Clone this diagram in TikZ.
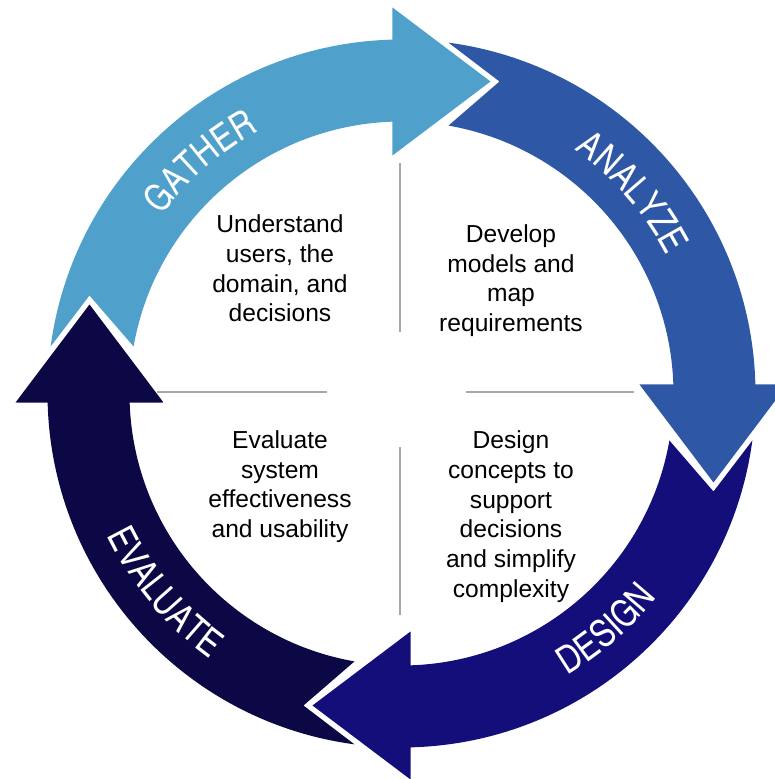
\documentclass[tikz,border=0pt]{standalone}
\usepackage{fontspec}
\setmainfont{Liberation Sans}
\newfontfamily\lblfont{texgyreheroscn-regular.otf}
\usepackage{xcolor}
\usepackage{tikz}
\usetikzlibrary{decorations.text}

\definecolor{gathercol}{RGB}{79,161,203}
\definecolor{analyzecol}{RGB}{46,88,166}
\definecolor{designcol}{RGB}{20,14,122}
\definecolor{evalcol}{RGB}{12,8,70}
\definecolor{divgray}{RGB}{168,168,168}

\tikzset{
  steptext/.style={font=\fontsize{24.6}{29.7}\selectfont, align=center, inner sep=0pt},
  divider/.style={draw=divgray, line width=1.6pt},
  toplabel/.style={decorate, decoration={text along path, text align=center, text color=white,
      text={|\lblfont\fontsize{38}{38}\selectfont|#1}}},
}

% one quarter of the ring, drawn from top to right, then turned
\newcommand{\ringarrow}[2]{%
  \begin{scope}[rotate=#1]
    \fill[#2] (82.37:354) arc[start angle=82.37, end angle=1.46, radius=354]
      -- (386,9) -- (312,-89) -- (238,9)
      -- (1.90:272) arc[start angle=1.90, end angle=80.05, radius=272]
      -- (98,312) -- cycle;
  \end{scope}}

\begin{document}
\begin{tikzpicture}[x=1pt,y=1pt]
    \clip (-400,-387) rectangle (375,392);

    \begin{scope}[shift={(1.5,-1.5)}]
      \ringarrow{90}{gathercol}
      \ringarrow{0}{analyzecol}
      \ringarrow{-90}{designcol}
      \ringarrow{180}{evalcol}
      \path[toplabel=GATHER] (171:299) arc[start angle=171, end angle=91, radius=299];
      \path[toplabel=ANALYZE] (81:299) arc[start angle=81, end angle=1, radius=299];
      \path[toplabel=DESIGN] (-89:327) arc[start angle=-89, end angle=-9, radius=327];
      \path[toplabel=EVALUATE] (180:327) arc[start angle=180, end angle=260, radius=327];
    \end{scope}

    \draw[divider] (0,60) -- (0,229);
    \draw[divider] (0,-55) -- (0,-223);
    \draw[divider] (-73,0) -- (-243,0);
    \draw[divider] (66,0) -- (234,0);

    \node[steptext] (understand) at (-120,123.5) {Understand\\users, the\\domain, and\\decisions};
    \node[steptext] (develop) at (111,111.5) {Develop\\models and\\map\\requirements};
    \node[steptext] (evaluate) at (-120,-94.5) {Evaluate\\system\\effectiveness\\and usability};
    \node[steptext] (design) at (111,-124.5) {Design\\concepts to\\support\\decisions\\and simplify\\complexity};
\end{tikzpicture}
\end{document}
